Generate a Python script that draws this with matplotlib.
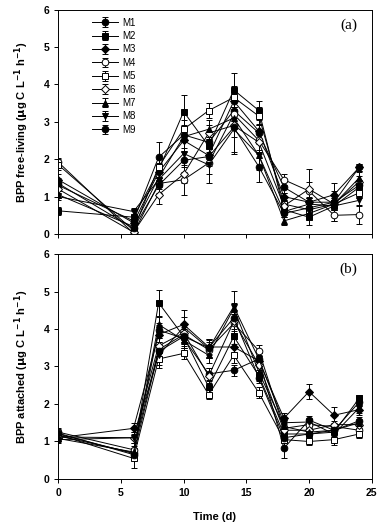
import matplotlib
matplotlib.use("Agg")
import matplotlib.pyplot as plt
import numpy as np

plt.rcParams['font.family'] = ['Liberation Sans', 'DejaVu Sans']

time = [0, 6, 8, 10, 12, 14, 16, 18, 20, 22, 24]
series_names = ["M1", "M2", "M3", "M4", "M5", "M6", "M7", "M8", "M9"]

# Panel (a): BPP free-living
free_M1 = [1.30, 0.35, 2.05, 2.65, 2.45, 3.30, 2.70, 1.25, 0.85, 0.85, 1.78]
free_M2 = [0.62, 0.45, 1.70, 3.27, 2.35, 3.85, 3.30, 0.65, 0.45, 0.75, 1.25]
free_M3 = [1.45, 0.30, 1.65, 2.50, 2.10, 3.55, 2.75, 1.00, 0.85, 1.05, 1.78]
free_M4 = [1.92, 0.02, 1.35, 1.45, 1.90, 3.20, 2.50, 1.45, 1.15, 0.50, 0.52]
free_M5 = [1.85, 0.10, 1.80, 2.80, 3.30, 3.65, 3.15, 0.80, 0.65, 0.80, 1.10]
free_M6 = [1.20, 0.05, 1.05, 1.60, 2.70, 2.90, 2.45, 0.75, 1.20, 0.80, 1.40]
free_M7 = [1.05, 0.20, 1.50, 2.60, 2.80, 3.10, 2.10, 0.35, 0.55, 0.80, 1.50]
free_M8 = [1.00, 0.60, 1.45, 2.15, 1.85, 2.80, 2.10, 0.60, 0.80, 0.75, 0.90]
free_M9 = [1.35, 0.15, 1.30, 1.97, 2.07, 2.85, 1.80, 0.55, 0.70, 0.85, 1.30]

free_err_M1 = [0.15, 0.10, 0.40, 0.20, 0.15, 0.20, 0.20, 0.15, 0.10, 0.10, 0.10]
free_err_M2 = [0.10, 0.20, 0.20, 0.45, 0.20, 0.45, 0.25, 0.10, 0.20, 0.10, 0.15]
free_err_M3 = [0.15, 0.10, 0.20, 0.30, 0.20, 0.25, 0.20, 0.10, 0.10, 0.10, 0.10]
free_err_M4 = [0.10, 0.05, 0.15, 0.40, 0.30, 0.30, 0.25, 0.15, 0.60, 0.15, 0.25]
free_err_M5 = [0.15, 0.05, 0.20, 0.25, 0.20, 0.30, 0.25, 0.10, 0.15, 0.10, 0.15]
free_err_M6 = [0.10, 0.05, 0.25, 0.20, 0.20, 0.30, 0.30, 0.10, 0.20, 0.10, 0.15]
free_err_M7 = [0.10, 0.10, 0.20, 0.30, 0.25, 0.30, 0.30, 0.10, 0.10, 0.10, 0.15]
free_err_M8 = [0.10, 0.10, 0.20, 0.50, 0.50, 0.60, 0.40, 0.10, 0.15, 0.10, 0.15]
free_err_M9 = [0.15, 0.10, 0.20, 0.60, 0.25, 0.70, 0.40, 0.10, 0.10, 0.50, 0.15]

# Panel (b): BPP attached
att_M1 = [1.15, 0.70, 3.97, 3.75, 2.80, 2.90, 3.20, 0.82, 1.57, 1.30, 1.55]
att_M2 = [1.20, 0.68, 4.70, 3.80, 2.45, 3.80, 2.75, 1.20, 1.20, 1.25, 2.15]
att_M3 = [1.10, 1.35, 3.85, 4.12, 3.52, 3.52, 3.15, 1.62, 2.33, 1.70, 1.85]
att_M4 = [1.25, 0.78, 3.45, 3.85, 3.45, 4.15, 3.42, 1.35, 1.45, 1.40, 1.30]
att_M5 = [1.18, 0.55, 3.20, 3.35, 2.25, 3.30, 2.30, 1.05, 1.00, 1.05, 1.20]
att_M6 = [1.12, 1.10, 3.55, 3.90, 2.75, 4.20, 3.05, 1.30, 1.30, 1.45, 1.45]
att_M7 = [1.08, 0.72, 4.12, 3.70, 3.30, 4.55, 2.85, 1.40, 1.25, 1.30, 1.50]
att_M8 = [1.05, 1.10, 3.30, 4.05, 3.48, 4.60, 3.20, 1.50, 1.52, 1.20, 1.90]
att_M9 = [1.22, 0.65, 3.40, 3.80, 3.50, 4.30, 2.70, 1.10, 1.20, 1.30, 2.05]

att_err_M1 = [0.10, 0.10, 0.20, 0.20, 0.15, 0.15, 0.15, 0.27, 0.10, 0.10, 0.10]
att_err_M2 = [0.10, 0.10, 0.35, 0.20, 0.15, 0.20, 0.15, 0.10, 0.10, 0.10, 0.10]
att_err_M3 = [0.10, 0.15, 0.25, 0.20, 0.20, 0.20, 0.15, 0.15, 0.20, 0.23, 0.15]
att_err_M4 = [0.10, 0.10, 0.20, 0.20, 0.20, 0.25, 0.15, 0.10, 0.10, 0.10, 0.10]
att_err_M5 = [0.10, 0.27, 0.25, 0.15, 0.12, 0.20, 0.15, 0.10, 0.10, 0.15, 0.10]
att_err_M6 = [0.10, 0.15, 0.20, 0.25, 0.20, 0.25, 0.15, 0.10, 0.10, 0.10, 0.10]
att_err_M7 = [0.10, 0.10, 0.20, 0.20, 0.20, 0.15, 0.15, 0.10, 0.10, 0.10, 0.10]
att_err_M8 = [0.10, 0.15, 0.25, 0.45, 0.25, 0.42, 0.15, 0.15, 0.10, 0.10, 0.15]
att_err_M9 = [0.10, 0.10, 0.25, 0.30, 0.20, 0.20, 0.15, 0.10, 0.10, 0.10, 0.10]

free_vals = [free_M1, free_M2, free_M3, free_M4, free_M5, free_M6, free_M7, free_M8, free_M9]
free_errs = [free_err_M1, free_err_M2, free_err_M3, free_err_M4, free_err_M5,
             free_err_M6, free_err_M7, free_err_M8, free_err_M9]
att_vals = [att_M1, att_M2, att_M3, att_M4, att_M5, att_M6, att_M7, att_M8, att_M9]
att_errs = [att_err_M1, att_err_M2, att_err_M3, att_err_M4, att_err_M5,
            att_err_M6, att_err_M7, att_err_M8, att_err_M9]

markers = ['o', 's', 'D', 'o', 's', 'D', '^', 'v', 'o']
filled = [True, True, True, False, False, False, True, True, True]
msizes = [4.8, 4.8, 4.2, 4.8, 4.8, 4.2, 4.8, 4.8, 4.8]

fig = plt.figure(figsize=(3.79, 5.22), dpi=100)
ax1 = fig.add_axes([0.1538, 0.5517, 0.8269, 0.4301])
ax2 = fig.add_axes([0.1538, 0.0824, 0.8269, 0.4310])

def draw(ax, vals, errs):
    for name, v, e, m, f, ms in zip(series_names, vals, errs, markers, filled, msizes):
        ax.errorbar(time, v, yerr=e, color='black', lw=0.7, elinewidth=0.7,
                    capsize=2.5, capthick=0.7, marker=m, ms=ms,
                    mfc='black' if f else 'white', mec='black', mew=0.7,
                    label=name)
    ax.set_xlim(0, 25)
    ax.set_ylim(0, 6)
    ax.set_xticks([0, 5, 10, 15, 20, 25])
    ax.set_yticks([0, 1, 2, 3, 4, 5, 6])
    ax.tick_params(direction='out', length=3, width=0.7, labelsize=7.5)
    for s in ax.spines.values():
        s.set_linewidth(0.7)
    for lbl in ax.get_yticklabels() + ax.get_xticklabels():
        lbl.set_fontweight('bold')

draw(ax1, free_vals, free_errs)
draw(ax2, att_vals, att_errs)
ax1.set_xticklabels([])

ax1.set_ylabel(r'BPP free-living ($\mathbf{\mu}$g C L$^{\mathbf{-1}}$ h$^{\mathbf{-1}}$)',
               fontsize=8, fontweight='bold', labelpad=9)
ax2.set_ylabel(r'BPP attached ($\mathbf{\mu}$g C L$^{\mathbf{-1}}$ h$^{\mathbf{-1}}$)',
               fontsize=8, fontweight='bold', labelpad=9)
ax2.set_xlabel('Time (d)', fontsize=8, fontweight='bold', labelpad=10)

ax1.text(0.955, 0.93, '(a)', transform=ax1.transAxes, ha='right', va='center',
         fontsize=11, family=['Liberation Serif', 'DejaVu Serif'])
ax2.text(0.955, 0.93, '(b)', transform=ax2.transAxes, ha='right', va='center',
         fontsize=11, family=['Liberation Serif', 'DejaVu Serif'])

leg = ax1.legend(loc='upper left', bbox_to_anchor=(0.09, 0.99), frameon=False,
                 fontsize=7, handlelength=2.6, handletextpad=0.5,
                 labelspacing=0.35, borderaxespad=0.2)

fig.savefig('out.png', dpi=100)
